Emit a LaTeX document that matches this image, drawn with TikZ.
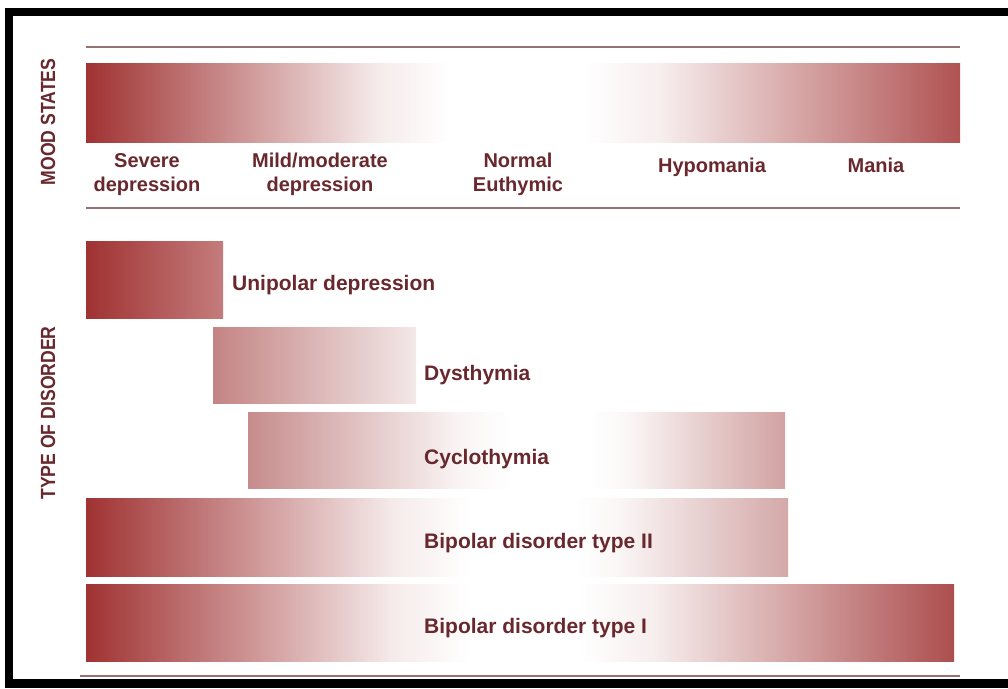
\documentclass[tikz,border=0pt]{standalone}
\usepackage{fontspec}
\setmainfont{Liberation Sans}
\usepackage{graphicx}
\definecolor{dk}{RGB}{160,50,50}
\definecolor{moodR}{RGB}{176,82,82}
\definecolor{uniR}{RGB}{196,124,124}
\definecolor{dysL}{RGB}{196,132,132}
\definecolor{dysR}{RGB}{243,232,232}
\definecolor{cycL}{RGB}{198,140,140}
\definecolor{cycR}{RGB}{210,162,162}
\definecolor{bpiiR}{RGB}{212,168,168}
\definecolor{bpiR}{RGB}{172,78,78}
\definecolor{txt}{RGB}{105,40,45}
\definecolor{ln}{RGB}{150,115,115}
\colorlet{dkw}{dk!10!white}
\colorlet{moodRw}{moodR!10!white}
\colorlet{cycLw}{cycL!10!white}
\colorlet{cycRw}{cycR!10!white}
\colorlet{bpiiRw}{bpiiR!10!white}
\colorlet{bpiRw}{bpiR!10!white}
\pgfdeclarehorizontalshading{moodsh}{100bp}{color(0bp)=(dk); color(25bp)=(dk); color(41.66bp)=(dkw); color(45.82bp)=(white); color(53.55bp)=(white); color(57.84bp)=(moodRw); color(75bp)=(moodR); color(100bp)=(moodR)}
\pgfdeclarehorizontalshading{cycsh}{100bp}{color(0bp)=(cycL); color(25bp)=(cycL); color(44.5bp)=(cycLw); color(49.39bp)=(white); color(56.84bp)=(white); color(60.47bp)=(cycRw); color(75bp)=(cycR); color(100bp)=(cycR)}
\pgfdeclarehorizontalshading{bpiish}{100bp}{color(0bp)=(dk); color(25bp)=(dk); color(46.88bp)=(dkw); color(52.35bp)=(white); color(59.83bp)=(white); color(62.86bp)=(bpiiRw); color(75bp)=(bpiiR); color(100bp)=(bpiiR)}
\pgfdeclarehorizontalshading{bpish}{100bp}{color(0bp)=(dk); color(25bp)=(dk); color(42.67bp)=(dkw); color(47.09bp)=(white); color(53.42bp)=(white); color(57.74bp)=(bpiRw); color(75bp)=(bpiR); color(100bp)=(bpiR)}
\tikzset{
  lab/.style={text=txt, font=\fontsize{21}{25}\selectfont\bfseries, inner sep=0pt},
  moodlab/.style={text=txt, font=\fontsize{20}{24}\selectfont\bfseries, inner sep=0pt, align=center},
  side/.style={text=txt, font=\fontsize{20.5}{24}\selectfont\bfseries, inner sep=0pt},
  rule/.style={draw=ln, line width=1.6pt}
}
\begin{document}
\begin{tikzpicture}[x=1pt,y=-1pt]
\useasboundingbox (0,0) rectangle (1008,688);
\fill[white] (0,0) rectangle (1008,688);
% rules
\draw[rule] (86,47) -- (960,47);
\draw[rule] (86,208) -- (960,208);
\draw[rule] (80,676) -- (960,676);
% mood bar
\path[shading=moodsh] (86,63) rectangle (960,142);
% disorder bars
\shade[left color=dk, right color=uniR] (86,241) rectangle (223,318);
\shade[left color=dysL, right color=dysR] (213,327) rectangle (416,403);
\path[shading=cycsh] (248,412) rectangle (785,488);
\path[shading=bpiish] (86,498) rectangle (788,576);
\path[shading=bpish] (86,584) rectangle (954,661);
% side labels
\node[side, rotate=90] (ms) at (48,122) {\scalebox{0.86}[1]{MOOD STATES}};
\node[side, rotate=90] (tod) at (48,413) {\scalebox{0.86}[1]{TYPE OF DISORDER}};
% mood labels (base = baseline of last line)
\node[moodlab, anchor=base] (sev) at (147,191) {Severe\\depression};
\node[moodlab, anchor=base] (mild) at (320,191) {Mild/moderate\\depression};
\node[moodlab, anchor=base] (norm) at (518,191) {Normal\\Euthymic};
\node[moodlab, anchor=base] (hypo) at (712,172) {Hypomania};
\node[moodlab, anchor=base] (man) at (876,172) {Mania};
% disorder labels
\node[lab, anchor=base west] (uni) at (232,290) {Unipolar depression};
\node[lab, anchor=base west] (dys) at (424,380) {Dysthymia};
\node[lab, anchor=base west] (cyc) at (424,464) {Cyclothymia};
\node[lab, anchor=base west] (bpii) at (424,548) {Bipolar disorder type II};
\node[lab, anchor=base west] (bpi) at (424,633) {Bipolar disorder type I};
% frame (top, left, bottom)
\fill[black] (5,8) rectangle (1008,16);
\fill[black] (5,8) rectangle (13,688);
\fill[black] (5,679) rectangle (1008,688);
\end{tikzpicture}
\end{document}
